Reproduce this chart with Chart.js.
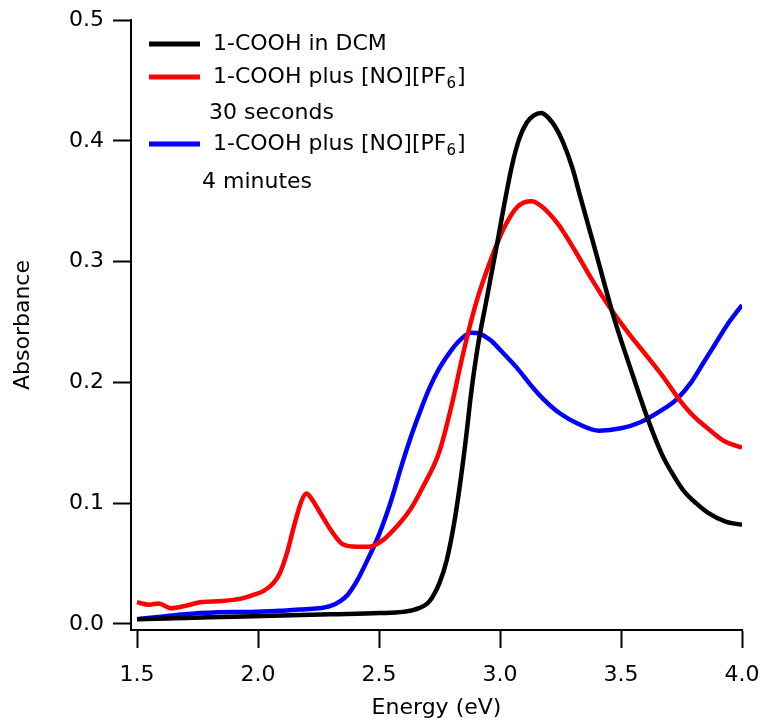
<!DOCTYPE html>
<html>
<head>
<meta charset="utf-8">
<script src="https://cdn.jsdelivr.net/npm/chart.js@4.4.1/dist/chart.umd.min.js"></script>
<style>
body{margin:0;background:#fff;}
</style>
</head>
<body>
<canvas id="myChart" width="764" height="721"></canvas>
<script>
// 1-COOH in DCM
var energyBlack = [1.5,1.7,1.9,2.1,2.3,2.5,2.6,2.65,2.7,2.72,2.75,2.78,2.81,2.835,2.86,2.88,2.91,2.94,2.99,3.02,3.05,3.08,3.11,3.14,3.17,3.2,3.23,3.26,3.3,3.33,3.39,3.47,3.54,3.61,3.67,3.72,3.76,3.81,3.86,3.93,4.0];
var absBlack = [0.004,0.005,0.006,0.007,0.008,0.009,0.010,0.012,0.017,0.022,0.034,0.053,0.083,0.116,0.155,0.190,0.232,0.264,0.317,0.350,0.380,0.402,0.415,0.421,0.423,0.419,0.411,0.399,0.377,0.355,0.312,0.254,0.211,0.170,0.140,0.122,0.110,0.100,0.092,0.085,0.082];

// plus [NO][PF6], 30 seconds
var energyRed = [1.5,1.55,1.59,1.64,1.7,1.76,1.85,1.93,1.98,2.02,2.06,2.09,2.12,2.15,2.18,2.2,2.22,2.26,2.3,2.35,2.41,2.46,2.52,2.57,2.63,2.68,2.75,2.8,2.85,2.9,2.95,2.99,3.03,3.07,3.1,3.13,3.17,3.24,3.31,3.38,3.45,3.53,3.61,3.68,3.74,3.8,3.87,3.93,4.0];
var absRed = [0.018,0.016,0.017,0.013,0.015,0.018,0.019,0.021,0.024,0.027,0.033,0.042,0.059,0.082,0.102,0.108,0.104,0.091,0.078,0.066,0.064,0.064,0.070,0.080,0.095,0.113,0.143,0.181,0.226,0.265,0.295,0.316,0.333,0.345,0.349,0.350,0.346,0.331,0.309,0.285,0.263,0.241,0.221,0.203,0.186,0.172,0.160,0.151,0.146];

// plus [NO][PF6], 4 minutes
var energyBlue = [1.5,1.6,1.76,1.9,1.97,2.1,2.17,2.25,2.3,2.34,2.37,2.41,2.45,2.5,2.55,2.59,2.63,2.67,2.71,2.75,2.8,2.84,2.88,2.92,2.96,3.0,3.07,3.13,3.18,3.25,3.32,3.41,3.5,3.58,3.66,3.73,3.79,3.84,3.89,3.94,4.0];
var absBlue = [0.004,0.006,0.009,0.010,0.010,0.011,0.012,0.013,0.015,0.019,0.024,0.036,0.052,0.074,0.102,0.129,0.154,0.176,0.196,0.212,0.227,0.236,0.241,0.240,0.235,0.227,0.212,0.197,0.186,0.174,0.166,0.160,0.162,0.167,0.176,0.186,0.200,0.216,0.232,0.248,0.264];

var xTicks = [1.5,2.0,2.5,3.0,3.5,4.0];
var yTicks = [0.0,0.1,0.2,0.3,0.4,0.5];
var seriesNames = ["1-COOH in DCM","1-COOH plus [NO][PF6]","1-COOH plus [NO][PF6]"];
var seriesNotes = ["","30 seconds","4 minutes"];
var seriesColors = ["#000000","#ff0000","#0000ff"];

var fontFam = "'DejaVu Sans', Verdana, sans-serif";

function toPoints(xs, ys){
    var pts = [];
    for(let i=0;i<xs.length;i++){
        pts.push({x: xs[i], y: ys[i]});
    }
    return pts;
}

function makeSet(i, xs, ys){
    return {
        label: seriesNames[i],
        data: toPoints(xs, ys),
        borderColor: seriesColors[i],
        backgroundColor: seriesColors[i],
        borderWidth: 4.5,
        pointRadius: 0,
        showLine: true,
        fill: false,
        cubicInterpolationMode: "monotone"
    };
}

// legend drawn inside the plot, Igor style
var igorLegend = {
    id: "igorLegend",
    afterDraw: function(chart){
        var ctx = chart.ctx;
        var rows = [
            {line: 44, note: 0, noteX: 0},
            {line: 77, note: 113, noteX: 209},
            {line: 144, note: 182, noteX: 202}
        ];
        ctx.save();
        ctx.textBaseline = "middle";
        ctx.textAlign = "left";
        ctx.fillStyle = "#000";
        chart.data.datasets.forEach(function(ds, i){
            var r = rows[i];
            ctx.strokeStyle = ds.borderColor;
            ctx.lineWidth = 5;
            ctx.beginPath();
            ctx.moveTo(149, r.line);
            ctx.lineTo(200, r.line);
            ctx.stroke();
            var txt = ds.label;
            var x = 213;
            ctx.font = "22px " + fontFam;
            if(txt.endsWith("[PF6]")){
                var head = txt.slice(0, -2);
                ctx.fillText(head, x, r.line);
                x += ctx.measureText(head).width;
                ctx.font = "15px " + fontFam;
                ctx.fillText("6", x, r.line + 7);
                x += ctx.measureText("6").width + 1;
                ctx.font = "22px " + fontFam;
                ctx.fillText("]", x, r.line);
            } else {
                ctx.fillText(txt, x, r.line);
            }
            if(seriesNotes[i] != ""){
                ctx.fillText(seriesNotes[i], r.noteX, r.note);
            }
        });
        ctx.restore();
    }
};

new Chart("myChart", {
    type: "scatter",
    data: {
        datasets: [
            makeSet(0, energyBlack, absBlack),
            makeSet(1, energyRed, absRed),
            makeSet(2, energyBlue, absBlue)
        ]
    },
    options: {
        responsive: false,
        animation: false,
        devicePixelRatio: 1,
        layout: { padding: { top: 20, right: 22, left: 0, bottom: 0 } },
        plugins: {
            legend: { display: false },
            tooltip: { enabled: false }
        },
        scales: {
            x: {
                type: "linear",
                min: 1.475,
                max: 4.0,
                afterBuildTicks: function(s){ s.ticks = xTicks.map(function(v){ return {value: v}; }); },
                afterFit: function(s){ s.height = 91; },
                ticks: {
                    color: "#000",
                    font: { family: fontFam, size: 22, lineHeight: "54px" },
                    padding: 0,
                    maxRotation: 0,
                    autoSkip: false,
                    callback: function(v){ return Number(v).toFixed(1); }
                },
                grid: { drawOnChartArea: false, drawTicks: true, tickLength: 18, tickWidth: 2, tickColor: "#000" },
                border: { display: true, color: "#000", width: 2 },
                title: { display: true, text: "Energy (eV)", color: "#000", font: { family: fontFam, size: 22 }, padding: { top: 0, bottom: 0 } }
            },
            y: {
                type: "linear",
                min: -0.005,
                max: 0.5,
                afterBuildTicks: function(s){ s.ticks = yTicks.map(function(v){ return {value: v}; }); },
                afterFit: function(s){ s.width = 131; },
                ticks: {
                    color: "#000",
                    font: { family: fontFam, size: 22, lineHeight: 1 },
                    padding: 9,
                    autoSkip: false,
                    callback: function(v){ return Number(v).toFixed(1); }
                },
                grid: { drawOnChartArea: false, drawTicks: true, tickLength: 18, tickWidth: 2, tickColor: "#000" },
                border: { display: true, color: "#000", width: 2 },
                title: { display: true, text: "Absorbance", color: "#000", font: { family: fontFam, size: 22 }, padding: { top: 10, bottom: 0 } }
            }
        }
    },
    plugins: [igorLegend]
});
</script>
</body>
</html>
